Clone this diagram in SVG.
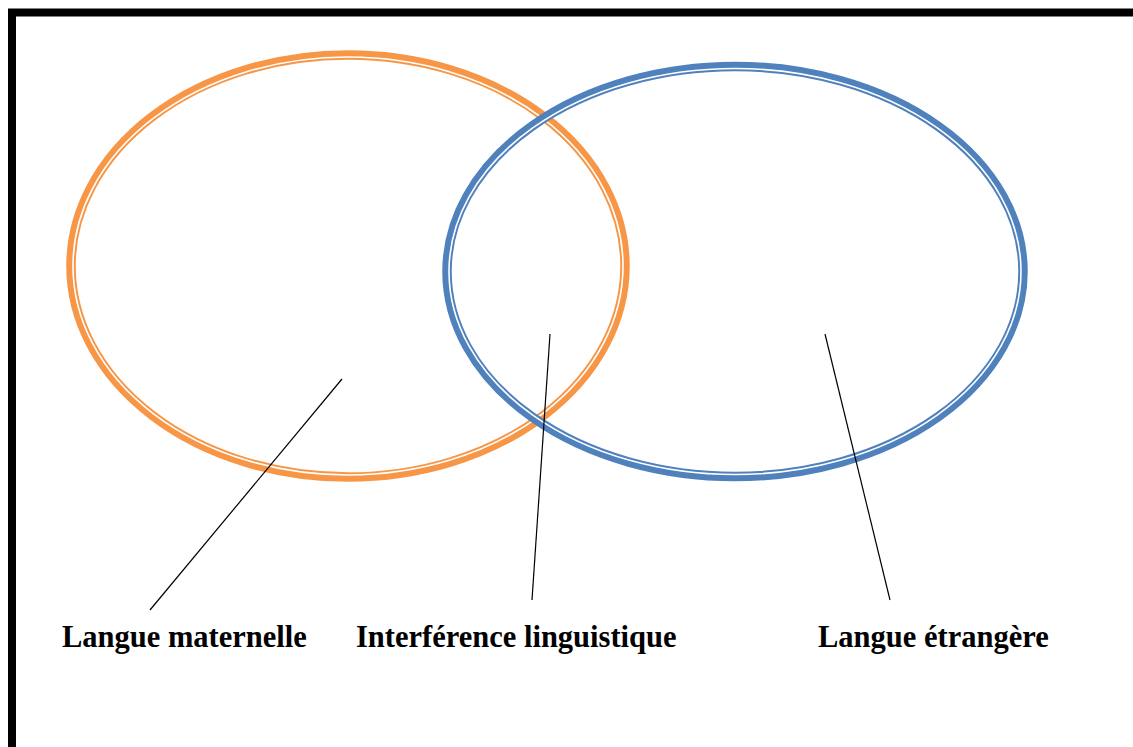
<svg xmlns="http://www.w3.org/2000/svg" width="1133" height="747" viewBox="0 0 1133 747">
<style>
.lbl{font-family:"Liberation Serif","Times New Roman",serif;font-weight:bold;font-size:30.5px;fill:#000}
.lead{stroke:#000;stroke-width:1.2;fill:none}
.gap{stroke:#fff;stroke-width:1.6;fill:none}
</style>
<rect x="0" y="0" width="1133" height="747" fill="#fff"/>
<rect x="12" y="12.5" width="1140" height="760" fill="none" stroke="#000" stroke-width="8"/>
<g id="langue-maternelle">
<ellipse cx="348" cy="266" rx="277" ry="211" fill="none" stroke="#F79646" stroke-width="9.5"/>
<ellipse cx="348" cy="266" rx="275" ry="209" class="gap"/>
</g>
<g id="langue-etrangere">
<ellipse cx="735" cy="271.5" rx="288" ry="205" fill="none" stroke="#4F81BD" stroke-width="9.5"/>
<ellipse cx="735" cy="271.5" rx="286" ry="203" class="gap"/>
</g>
<g id="connectors">
<line class="lead" x1="342" y1="379" x2="150" y2="610"/>
<line class="lead" x1="550" y1="334" x2="532" y2="600"/>
<line class="lead" x1="825" y1="334" x2="890" y2="600"/>
</g>
<g id="labels">
<text class="lbl" x="62" y="647">Langue maternelle</text>
<text class="lbl" x="356" y="647">Interférence linguistique</text>
<text class="lbl" x="818" y="647">Langue étrangère</text>
</g>
</svg>
